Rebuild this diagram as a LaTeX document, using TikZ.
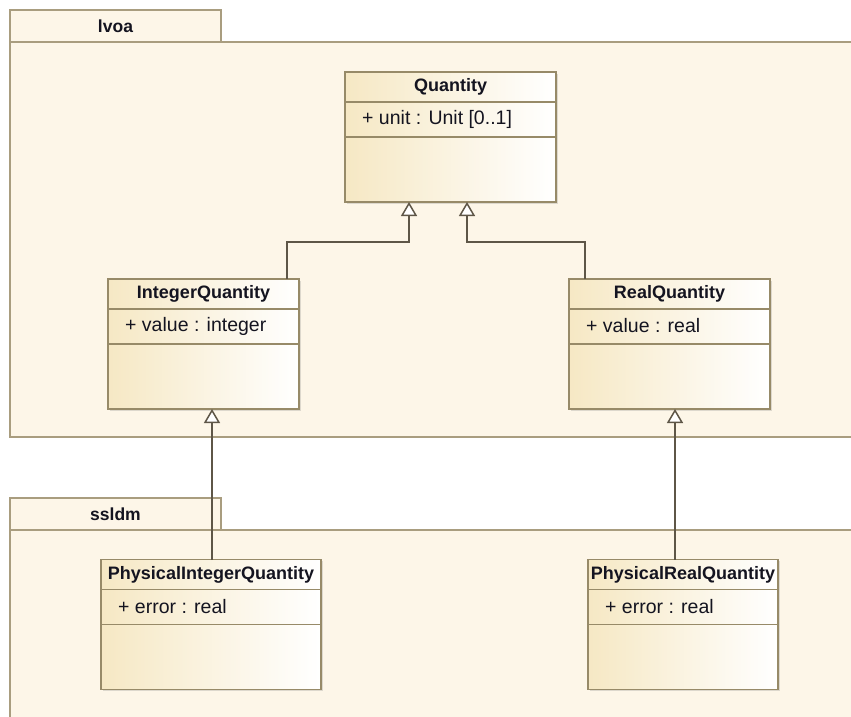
\documentclass[tikz,border=0pt]{standalone}
\usepackage{fontspec}
\setmainfont{Liberation Sans}
\usetikzlibrary{arrows.meta,shadows}
\definecolor{pkgfill}{HTML}{FDF6E8}
\definecolor{pkgdraw}{HTML}{A99D7F}
\definecolor{clsdraw}{HTML}{978A68}
\definecolor{clsleft}{HTML}{F6E8C4}
\definecolor{linec}{HTML}{5E5647}
\definecolor{txt}{HTML}{141420}
\tikzset{
  pkg/.style={fill=pkgfill, draw=pkgdraw, line width=1.2pt},
  pkgname/.style={font=\fontsize{17.5}{20}\selectfont\bfseries, text=txt, inner sep=0pt},
  cls/.style={rectangle, draw=clsdraw, line width=1.5pt, left color=clsleft, right color=white,
    inner sep=0pt, outer sep=0pt, minimum height=130,
    drop shadow={shadow xshift=1.5pt, shadow yshift=-1.5pt, opacity=0.25}},
  clsline/.style={draw=clsdraw, line width=1.2pt},
  ctitle/.style={font=\fontsize{18}{21}\selectfont\bfseries, text=txt, inner sep=0pt},
  cattr/.style={font=\fontsize{19.5}{22}\selectfont, text=txt, inner sep=0pt, anchor=west},
  gen/.style={draw=linec, line width=1.8pt, -{Triangle[width=16pt,length=14pt,fill=white,line width=1.5pt]}}
}
\newcommand\umlclass[6]{%
  \node[cls, minimum width=#4] (#1) at (#2,#3) {};
  \draw[clsline] ([yshift=-30]#1.north west) -- ([yshift=-30]#1.north east);
  \draw[clsline] ([yshift=-65]#1.north west) -- ([yshift=-65]#1.north east);
  \node[ctitle] (#1-t) at ([yshift=-15]#1.north) {#5};
  \node[cattr] (#1-a) at ([xshift=17,yshift=-47]#1.north west) {#6};
}
\begin{document}
\begin{tikzpicture}[x=1pt,y=-1pt]
\useasboundingbox (0,0) rectangle (851,716);
% package lvoa
\fill[pkgfill] (10,42) rectangle (852,437);
\draw[pkgdraw, line width=1.2pt] (852,42) -- (10,42) -- (10,437) -- (852,437);
\draw[pkg] (10,10) rectangle (221,42);
\node[pkgname] (lvoa) at (115.5,26) {lvoa};
% package ssldm
\fill[pkgfill] (10,530) rectangle (852,717);
\draw[pkgdraw, line width=1.2pt] (852,530) -- (10,530) -- (10,717);
\draw[pkg] (10,498) rectangle (221,530);
\node[pkgname] (ssldm) at (115.5,514) {ssldm};
% classes
\umlclass{q}{450.5}{137}{211}{Quantity}{+ unit : Unit [0..1]}
\umlclass{iq}{203.5}{344}{191}{IntegerQuantity}{+ value : integer}
\umlclass{rq}{669.5}{344}{201}{RealQuantity}{+ value : real}
\umlclass{piq}{211}{624.5}{220}{PhysicalIntegerQuantity}{+ error : real}
\umlclass{prq}{683}{624.5}{190}{PhysicalRealQuantity}{+ error : real}
% generalizations
\draw[gen] ([xshift=83.5]iq.north) -- ++(0,-37) -| ([xshift=-41.5]q.south);
\draw[gen] ([xshift=-84.5]rq.north) -- ++(0,-37) -| ([xshift=16.5]q.south);
\draw[gen] ([xshift=1]piq.north) -- ([xshift=8.5]iq.south);
\draw[gen] ([xshift=-8]prq.north) -- ([xshift=5.5]rq.south);
\end{tikzpicture}
\end{document}
